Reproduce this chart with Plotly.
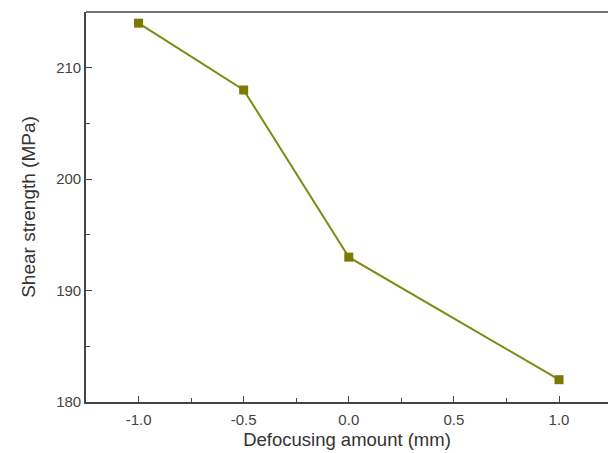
import plotly.graph_objects as go

defocus = [-1.0, -0.5, 0.0, 1.0]
shear = [214, 208, 193, 182]
x_ticks = [-1.0, -0.5, 0.0, 0.5, 1.0]
x_tick_labels = ["-1.0", "-0.5", "0.0", "0.5", "1.0"]
y_ticks = [180, 190, 200, 210]
y_tick_labels = ["180", "190", "200", "210"]

fig = go.Figure()
fig.add_trace(go.Scatter(
    x=defocus, y=shear, mode="lines+markers",
    line=dict(color="#7f8a14", width=2),
    marker=dict(symbol="square", size=9, color="#7a7a00",
                line=dict(color="#7a7a00", width=0)),
    showlegend=False,
))

# top frame line of the plot area
fig.add_shape(type="line", xref="paper", yref="paper", x0=0, x1=1, y0=1, y1=1,
              line=dict(color="#444", width=1.6))

font_family = "Liberation Sans, Arial, sans-serif"
fig.update_layout(
    width=608, height=453,
    margin=dict(l=86, r=0, t=12, b=51),
    paper_bgcolor="white", plot_bgcolor="white",
    font=dict(family=font_family, color="#333333"),
    xaxis=dict(
        range=[-1.25, 1.233], tickvals=x_ticks, ticktext=x_tick_labels,
        ticks="inside", ticklen=6, tickwidth=1.3, tickcolor="#444",
        minor=dict(ticks="inside", ticklen=4, tickwidth=1.3, tickcolor="#444",
                   dtick=0.25, showgrid=False),
        showline=True, linecolor="#444", linewidth=1.6, mirror=False,
        showgrid=False, zeroline=False, ticklabelstandoff=3,
        tickfont=dict(size=15, color="#444"),
        title=dict(text="Defocusing amount (mm)", font=dict(size=18.5, color="#333"), standoff=6),
    ),
    yaxis=dict(
        range=[180, 215], tickvals=y_ticks, ticktext=y_tick_labels,
        ticks="inside", ticklen=6, tickwidth=1.3, tickcolor="#444",
        minor=dict(ticks="inside", ticklen=4, tickwidth=1.3, tickcolor="#444",
                   dtick=5, showgrid=False),
        showline=True, linecolor="#444", linewidth=1.6, mirror=False,
        showgrid=False, zeroline=False,
        tickfont=dict(size=15, color="#444"),
        title=dict(text="Shear strength (MPa)", font=dict(size=19, color="#333"), standoff=16),
    ),
)
fig.write_html(
    "out.html",
    config={"displayModeBar": False},
    post_script="document.body.style.margin='0';document.body.style.overflow='hidden';",
)
